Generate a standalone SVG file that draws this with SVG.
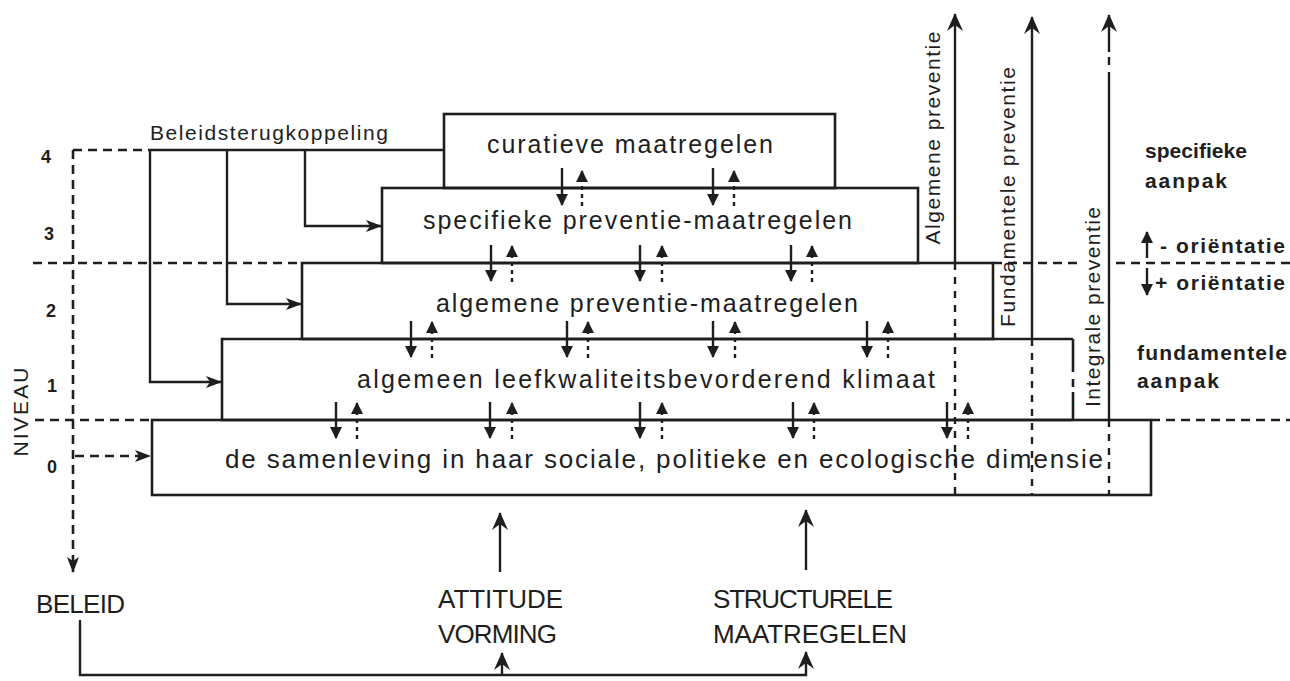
<svg xmlns="http://www.w3.org/2000/svg" width="1290" height="681" viewBox="0 0 1290 681">
<defs>
<marker id="ah" markerUnits="userSpaceOnUse" viewBox="0 0 16 12" markerWidth="16" markerHeight="12" refX="15" refY="6" orient="auto">
<path d="M0,0 L16,6 L0,12 L4,6 z" fill="#1e1e1e"/>
</marker>
<marker id="ahL" markerUnits="userSpaceOnUse" viewBox="0 0 18 16" markerWidth="18" markerHeight="16" refX="17" refY="8" orient="auto">
<path d="M0,0 L18,8 L0,16 L6,8 z" fill="#1e1e1e"/>
</marker>
<marker id="ahS" markerUnits="userSpaceOnUse" viewBox="0 0 12 12" markerWidth="12" markerHeight="12" refX="11" refY="6" orient="auto">
<path d="M0,0 L12,6 L0,12 z" fill="#1e1e1e"/>
</marker>
</defs>
<style>
.box{fill:none;stroke:#1e1e1e;stroke-width:2.6}
.ln{fill:none;stroke:#1e1e1e;stroke-width:2.4}
.dl{fill:none;stroke:#1e1e1e;stroke-width:2.6;stroke-dasharray:9 6}
.dv{fill:none;stroke:#1e1e1e;stroke-width:2.4;stroke-dasharray:7 7}
.sd{fill:none;stroke:#1e1e1e;stroke-width:2.4;stroke-dasharray:4 4}
.sl{fill:none;stroke:#1e1e1e;stroke-width:2.4}
.t{font-family:"Liberation Sans",Arial,sans-serif;fill:#1e1e1e}
.bx{font-size:25px}
.lv{font-size:18px;font-weight:bold}
.bt{font-size:26px}
.rb{font-size:21px;font-weight:bold}
.rv{font-size:21px}
</style>

<g id="connectors">
  <!-- level dashed lines -->
  <path class="dl" d="M33,263 H302"/>
  <path class="dl" d="M993,263 H1078 M1116,263 H1290"/>
  <path class="dl" d="M35,420 H152"/>
  <path class="dl" d="M1151,420 H1290"/>
  <!-- policy feedback dashed -->
  <path class="dl" d="M73,150 H146"/>
  <path class="dl" d="M73,150 V572" marker-end="url(#ah)"/>
  <path class="dl" d="M75,456 H150" marker-end="url(#ah)"/>
  <!-- Beleidsterugkoppeling lines -->
  <path class="ln" d="M148,150 H444"/>
  <path class="ln" d="M150,150 V382 H221" marker-end="url(#ah)"/>
  <path class="ln" d="M227,150 V304 H301" marker-end="url(#ah)"/>
  <path class="ln" d="M305,150 V226 H381" marker-end="url(#ah)"/>
  <!-- prevention arrows -->
  <path class="ln" d="M955,263 V14" marker-end="url(#ahL)"/>
  <path class="dv" d="M955,263 V495"/>
  <path class="ln" d="M1032,339 V17" marker-end="url(#ahL)"/>
  <path class="dv" d="M1032,339 V495"/>
  <path class="ln" d="M1109,52 V15" marker-end="url(#ahL)"/>
  <path class="ln" d="M1109,57 V65 M1109,72 V420"/>
  <path class="dv" d="M1109,420 V495"/>
  <!-- bottom -->
  <path class="ln" d="M500,572 V513" marker-end="url(#ahL)"/>
  <path class="ln" d="M806,570 V510" marker-end="url(#ahL)"/>
  <path class="ln" d="M80,620 V675 H806 V652" marker-end="url(#ahL)"/>
  <path class="ln" d="M502,675 V653" marker-end="url(#ahL)"/>
  <!-- paired orientation arrows L=188 -->
  <path class="sl" d="M562,168 V205" marker-end="url(#ahS)"/>
  <path class="sd" d="M582,206 V171" marker-end="url(#ahS)"/>
  <path class="sl" d="M713,168 V205" marker-end="url(#ahS)"/>
  <path class="sd" d="M734,206 V171" marker-end="url(#ahS)"/>
  <!-- L=263 -->
  <path class="sl" d="M491,245 V281" marker-end="url(#ahS)"/>
  <path class="sd" d="M512,282 V246" marker-end="url(#ahS)"/>
  <path class="sl" d="M640,245 V281" marker-end="url(#ahS)"/>
  <path class="sd" d="M662,282 V246" marker-end="url(#ahS)"/>
  <path class="sl" d="M791,245 V281" marker-end="url(#ahS)"/>
  <path class="sd" d="M812,282 V246" marker-end="url(#ahS)"/>
  <!-- L=339 -->
  <path class="sl" d="M411,321 V357" marker-end="url(#ahS)"/>
  <path class="sd" d="M432,358 V322" marker-end="url(#ahS)"/>
  <path class="sl" d="M567,321 V357" marker-end="url(#ahS)"/>
  <path class="sd" d="M588,358 V322" marker-end="url(#ahS)"/>
  <path class="sl" d="M713,321 V357" marker-end="url(#ahS)"/>
  <path class="sd" d="M735,358 V322" marker-end="url(#ahS)"/>
  <path class="sl" d="M867,321 V357" marker-end="url(#ahS)"/>
  <path class="sd" d="M888,358 V322" marker-end="url(#ahS)"/>
  <!-- L=420 -->
  <path class="sl" d="M336,402 V438" marker-end="url(#ahS)"/>
  <path class="sd" d="M357,439 V403" marker-end="url(#ahS)"/>
  <path class="sl" d="M490,402 V438" marker-end="url(#ahS)"/>
  <path class="sd" d="M512,439 V403" marker-end="url(#ahS)"/>
  <path class="sl" d="M640,402 V438" marker-end="url(#ahS)"/>
  <path class="sd" d="M662,439 V403" marker-end="url(#ahS)"/>
  <path class="sl" d="M793,402 V438" marker-end="url(#ahS)"/>
  <path class="sd" d="M814,439 V403" marker-end="url(#ahS)"/>
  <path class="sl" d="M947,402 V438" marker-end="url(#ahS)"/>
  <path class="sd" d="M968,439 V403" marker-end="url(#ahS)"/>
  <!-- legend arrows -->
  <path class="sl" d="M1147,258 V232" marker-end="url(#ahS)"/>
  <path class="sl" d="M1147,268 V295" marker-end="url(#ahS)"/>
</g>

<g id="node-curatieve">
  <rect class="box" x="444" y="114" width="391" height="74"/>
  <text class="t bx" x="487" y="153" textLength="286">curatieve maatregelen</text>
</g>
<g id="node-specifieke">
  <rect class="box" x="382" y="188" width="536" height="75"/>
  <text class="t bx" x="423" y="229" textLength="429">specifieke preventie-maatregelen</text>
</g>
<g id="node-algemene">
  <rect class="box" x="302" y="263" width="691" height="76"/>
  <text class="t bx" x="436" y="312" textLength="422">algemene preventie-maatregelen</text>
</g>
<g id="node-klimaat">
  <path class="box" d="M1073,339 H222 V420 H1073"/>
  <path class="box" d="M1073,339 V372 M1073,379 V387 M1073,392 V420"/>
  <text class="t bx" x="357" y="388" textLength="578">algemeen leefkwaliteitsbevorderend klimaat</text>
</g>
<g id="node-samenleving">
  <rect class="box" x="152" y="420" width="999" height="75"/>
  <text class="t bx" x="225" y="468" textLength="878" style="font-size:26px">de samenleving in haar sociale, politieke en ecologische dimensie</text>
</g>

<g id="label-feedback">
  <text class="t" x="150" y="140" textLength="238" style="font-size:21px">Beleidsterugkoppeling</text>
</g>

<g id="levels">
  <text class="t lv" x="41" y="163">4</text>
  <text class="t lv" x="44" y="240">3</text>
  <text class="t lv" x="46" y="317">2</text>
  <text class="t lv" x="47" y="392">1</text>
  <text class="t lv" x="47" y="473">0</text>
  <text class="t" x="0" y="0" text-anchor="middle" textLength="89" transform="translate(28,412) rotate(-90)" style="font-size:21px">NIVEAU</text>
</g>

<g id="prevention-labels">
  <text class="t rv" text-anchor="middle" textLength="213" transform="translate(940,138) rotate(-90)">Algemene preventie</text>
  <text class="t rv" text-anchor="middle" textLength="260" transform="translate(1015,197) rotate(-90)">Fundamentele preventie</text>
  <text class="t rv" text-anchor="middle" textLength="200" transform="translate(1100,307) rotate(-90)">Integrale preventie</text>
</g>

<g id="legend">
  <text class="t rb" x="1145" y="158" textLength="102">specifieke</text>
  <text class="t rb" x="1145" y="188" textLength="82">aanpak</text>
  <text class="t rb" x="1160" y="253" textLength="125">- oriëntatie</text>
  <text class="t rb" x="1155" y="290" textLength="130">+ oriëntatie</text>
  <text class="t rb" x="1137" y="360" textLength="150">fundamentele</text>
  <text class="t rb" x="1137" y="388" textLength="82">aanpak</text>
</g>

<g id="node-beleid">
  <text class="t bt" x="36" y="613" textLength="89">BELEID</text>
</g>
<g id="node-attitude">
  <text class="t bt" x="438" y="608" textLength="125">ATTITUDE</text>
  <text class="t bt" x="438" y="643" textLength="119">VORMING</text>
</g>
<g id="node-structurele">
  <text class="t bt" x="713" y="608" textLength="180">STRUCTURELE</text>
  <text class="t bt" x="713" y="643" textLength="194">MAATREGELEN</text>
</g>
</svg>
